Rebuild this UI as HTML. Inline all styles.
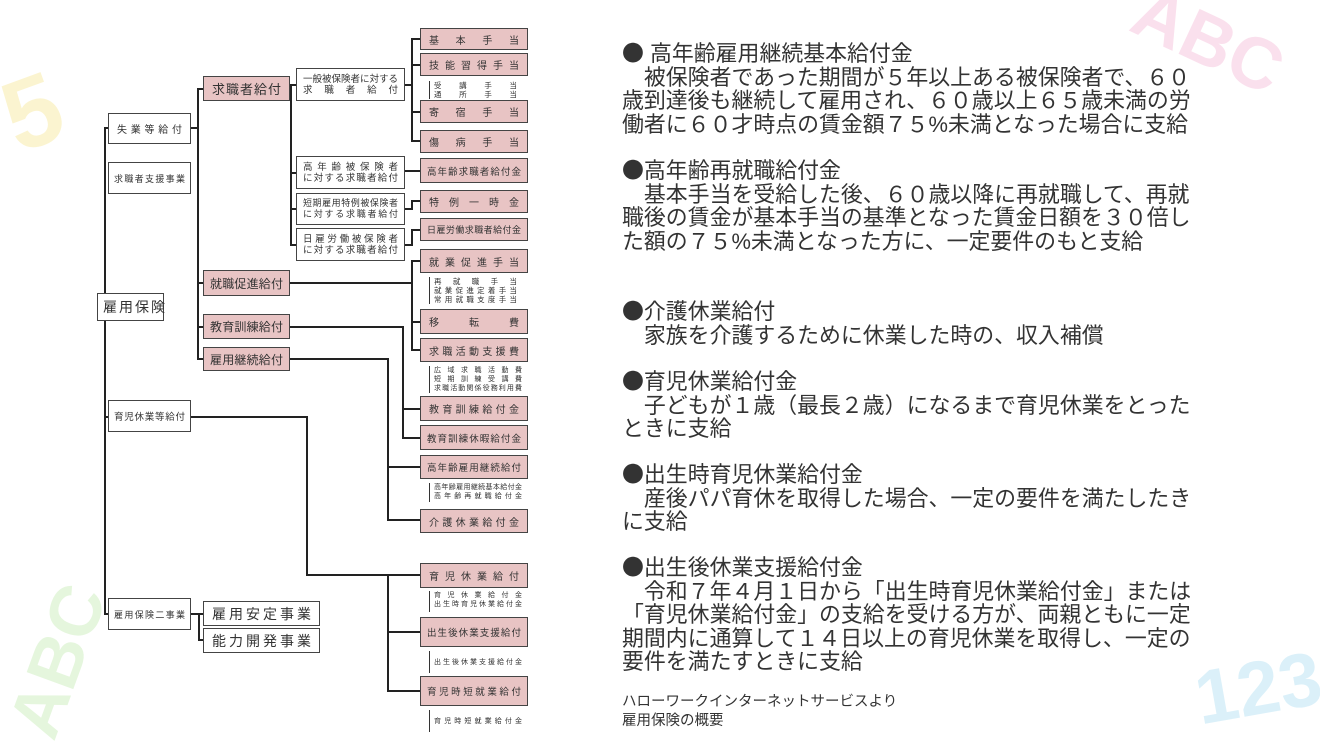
<!DOCTYPE html>
<html><head><meta charset="utf-8"><style>
html,body{margin:0;padding:0}
body{width:1320px;height:743px;position:relative;background:#fff;overflow:hidden;font-family:"Liberation Sans","Noto Sans CJK JP",sans-serif;color:#333}
.b{position:absolute;box-sizing:border-box;border:1.5px solid #444;background:#fff;display:flex;align-items:center;padding:0 8px;color:#333;white-space:nowrap}
.p{background:#e8c4c4}
.j{display:block;width:100%;text-align:justify;text-align-last:justify}
.l{position:absolute;background:#222}
.s{position:absolute;font-size:7.5px;line-height:9px;color:#333;border-left:1.2px solid #333;padding-left:4px;box-sizing:border-box;white-space:nowrap}
.s span{display:block;text-align:justify;text-align-last:justify}
.t{position:absolute;left:622px;font-size:21.9px;line-height:23.6px;white-space:pre;color:#333}
.t b{font-weight:normal;font-family:"Noto Sans CJK JP",sans-serif}
.deco{position:absolute;font-family:"Liberation Sans",sans-serif;font-weight:bold;opacity:.35}
</style></head><body>
<!-- decorations -->
<div class="deco" style="left:5px;top:55px;font-size:100px;color:#f5e27a;transform:rotate(-20deg)">5</div>
<div class="deco" style="left:1130px;top:0px;font-size:72px;color:#f2a9cc;transform:rotate(25deg)">ABC</div>
<div class="deco" style="left:-20px;top:620px;font-size:72px;color:#b6e6a0;transform:rotate(-70deg)">ABC</div>
<div class="deco" style="left:1195px;top:645px;font-size:76px;color:#9ad7ef;transform:rotate(-10deg)">123</div>

<!-- lines -->
<div class="l" style="left:104px;top:127px;width:2px;height:488px"></div>
<div class="l" style="left:104px;top:127px;width:5px;height:2px"></div>
<div class="l" style="left:104px;top:416px;width:5px;height:2px"></div>
<div class="l" style="left:104px;top:613px;width:5px;height:2px"></div>
<div class="l" style="left:190px;top:127px;width:9px;height:2px"></div>
<div class="l" style="left:197px;top:88px;width:2px;height:271px"></div>
<div class="l" style="left:197px;top:88px;width:7px;height:2px"></div>
<div class="l" style="left:197px;top:282px;width:7px;height:2px"></div>
<div class="l" style="left:197px;top:326px;width:7px;height:2px"></div>
<div class="l" style="left:197px;top:358px;width:7px;height:2px"></div>
<div class="l" style="left:289px;top:88px;width:3px;height:2px"></div>
<div class="l" style="left:290px;top:84px;width:2px;height:161px"></div>
<div class="l" style="left:290px;top:84px;width:7px;height:2px"></div>
<div class="l" style="left:290px;top:172px;width:7px;height:2px"></div>
<div class="l" style="left:290px;top:208px;width:7px;height:2px"></div>
<div class="l" style="left:290px;top:244px;width:7px;height:2px"></div>
<div class="l" style="left:404px;top:84px;width:9px;height:2px"></div>
<div class="l" style="left:411px;top:38px;width:2px;height:104px"></div>
<div class="l" style="left:411px;top:38px;width:10px;height:2px"></div>
<div class="l" style="left:411px;top:64px;width:10px;height:2px"></div>
<div class="l" style="left:411px;top:111px;width:10px;height:2px"></div>
<div class="l" style="left:411px;top:140px;width:10px;height:2px"></div>
<div class="l" style="left:404px;top:170px;width:17px;height:2px"></div>
<div class="l" style="left:404px;top:208px;width:8px;height:2px"></div>
<div class="l" style="left:411px;top:200px;width:2px;height:10px"></div>
<div class="l" style="left:411px;top:200px;width:10px;height:2px"></div>
<div class="l" style="left:404px;top:244px;width:8px;height:2px"></div>
<div class="l" style="left:411px;top:229px;width:2px;height:17px"></div>
<div class="l" style="left:411px;top:229px;width:10px;height:2px"></div>
<div class="l" style="left:289px;top:282px;width:124px;height:2px"></div>
<div class="l" style="left:411px;top:260px;width:2px;height:91px"></div>
<div class="l" style="left:411px;top:260px;width:10px;height:2px"></div>
<div class="l" style="left:411px;top:321px;width:10px;height:2px"></div>
<div class="l" style="left:411px;top:349px;width:10px;height:2px"></div>
<div class="l" style="left:289px;top:326px;width:115px;height:2px"></div>
<div class="l" style="left:402px;top:326px;width:2px;height:113px"></div>
<div class="l" style="left:402px;top:408px;width:19px;height:2px"></div>
<div class="l" style="left:402px;top:437px;width:19px;height:2px"></div>
<div class="l" style="left:289px;top:358px;width:100px;height:2px"></div>
<div class="l" style="left:387px;top:358px;width:2px;height:163px"></div>
<div class="l" style="left:387px;top:466px;width:34px;height:2px"></div>
<div class="l" style="left:387px;top:519px;width:34px;height:2px"></div>
<div class="l" style="left:190px;top:416px;width:118px;height:2px"></div>
<div class="l" style="left:306px;top:416px;width:2px;height:159px"></div>
<div class="l" style="left:306px;top:574px;width:115px;height:2px"></div>
<div class="l" style="left:387px;top:574px;width:2px;height:118px"></div>
<div class="l" style="left:387px;top:631px;width:34px;height:2px"></div>
<div class="l" style="left:387px;top:690px;width:34px;height:2px"></div>
<div class="l" style="left:190px;top:613px;width:9px;height:2px"></div>
<div class="l" style="left:198px;top:613px;width:2px;height:28px"></div>
<div class="l" style="left:198px;top:613px;width:6px;height:2px"></div>
<div class="l" style="left:198px;top:639px;width:6px;height:2px"></div>

<!-- level 0/1 -->
<div class="b" style="left:97px;top:293px;width:67px;height:28px;font-size:14px;padding:0 5px;letter-spacing:2px">雇用保険</div>
<div class="b" style="left:108px;top:113px;width:83px;height:31px;font-size:10px"><span class="j">失業等給付</span></div>
<div class="b" style="left:108px;top:162px;width:83px;height:32px;font-size:9px;padding:0 5px"><span class="j">求職者支援事業</span></div>
<div class="b" style="left:108px;top:400px;width:83px;height:32px;font-size:9.5px;padding:0 5px"><span class="j">育児休業等給付</span></div>
<div class="b" style="left:108px;top:598px;width:83px;height:32px;font-size:9px;padding:0 5px"><span class="j">雇用保険二事業</span></div>
<div class="b" style="left:203px;top:601px;width:117px;height:25px;font-size:14px"><span class="j">雇用安定事業</span></div>
<div class="b" style="left:203px;top:628px;width:117px;height:25px;font-size:14px"><span class="j">能力開発事業</span></div>

<!-- level 2 pink -->
<div class="b p" style="left:203px;top:76px;width:87px;height:25px;font-size:13px"><span class="j">求職者給付</span></div>
<div class="b p" style="left:203px;top:270px;width:87px;height:26px;font-size:12px;padding:0 6px"><span class="j">就職促進給付</span></div>
<div class="b p" style="left:203px;top:314px;width:87px;height:25px;font-size:12px;padding:0 6px"><span class="j">教育訓練給付</span></div>
<div class="b p" style="left:203px;top:347px;width:87px;height:24px;font-size:12px;padding:0 6px"><span class="j">雇用継続給付</span></div>

<!-- middle white -->
<div class="b" style="left:296px;top:68px;width:109px;height:33px;font-size:9.5px;line-height:11px;padding:0 6px"><div style="width:100%"><span class="j">一般被保険者に対する</span><span class="j">求職者給付</span></div></div>
<div class="b" style="left:296px;top:156px;width:109px;height:33px;font-size:9.5px;line-height:11px;padding:0 6px"><div style="width:100%"><span class="j">高年齢被保険者</span><span class="j">に対する求職者給付</span></div></div>
<div class="b" style="left:296px;top:193px;width:109px;height:32px;font-size:9px;line-height:11px;padding:0 6px"><div style="width:100%"><span class="j">短期雇用特例被保険者</span><span class="j">に対する求職者給付</span></div></div>
<div class="b" style="left:296px;top:228px;width:109px;height:33px;font-size:9.5px;line-height:11px;padding:0 6px"><div style="width:100%"><span class="j">日雇労働被保険者</span><span class="j">に対する求職者給付</span></div></div>

<!-- right pink -->
<div class="b p" style="left:420px;top:28px;width:108px;height:22px;font-size:10px"><span class="j">基本手当</span></div>
<div class="b p" style="left:420px;top:53px;width:108px;height:23px;font-size:10px"><span class="j">技能習得手当</span></div>
<div class="s" style="left:429px;top:81px;width:88px;height:18px"><span>受講手当</span><span>通所手当</span></div>
<div class="b p" style="left:420px;top:100px;width:108px;height:23px;font-size:10px"><span class="j">寄宿手当</span></div>
<div class="b p" style="left:420px;top:130px;width:108px;height:23px;font-size:10px"><span class="j">傷病手当</span></div>
<div class="b p" style="left:420px;top:158px;width:108px;height:25px;font-size:9.5px;padding:0 6px"><span class="j">高年齢求職者給付金</span></div>
<div class="b p" style="left:420px;top:190px;width:108px;height:23px;font-size:10px"><span class="j">特例一時金</span></div>
<div class="b p" style="left:420px;top:218px;width:108px;height:23px;font-size:9px;padding:0 6px"><span class="j">日雇労働求職者給付金</span></div>
<div class="b p" style="left:420px;top:249px;width:108px;height:24px;font-size:10px"><span class="j">就業促進手当</span></div>
<div class="s" style="left:429px;top:277px;width:88px;height:27px"><span>再就職手当</span><span>就業促進定着手当</span><span>常用就職支度手当</span></div>
<div class="b p" style="left:420px;top:309px;width:108px;height:25px;font-size:10px"><span class="j">移転費</span></div>
<div class="b p" style="left:420px;top:338px;width:108px;height:24px;font-size:10px"><span class="j">求職活動支援費</span></div>
<div class="s" style="left:429px;top:366px;width:93px;height:27px;font-size:7px"><span>広域求職活動費</span><span>短期訓練受講費</span><span>求職活動関係役務利用費</span></div>
<div class="b p" style="left:420px;top:396px;width:108px;height:25px;font-size:10px"><span class="j">教育訓練給付金</span></div>
<div class="b p" style="left:420px;top:425px;width:108px;height:25px;font-size:9.5px;padding:0 6px"><span class="j">教育訓練休暇給付金</span></div>
<div class="b p" style="left:420px;top:455px;width:108px;height:24px;font-size:9.5px;padding:0 6px"><span class="j">高年齢雇用継続給付</span></div>
<div class="s" style="left:429px;top:483px;width:93px;height:19px;font-size:7px"><span>高年齢雇用継続基本給付金</span><span>高年齢再就職給付金</span></div>
<div class="b p" style="left:420px;top:509px;width:108px;height:24px;font-size:10px"><span class="j">介護休業給付金</span></div>
<div class="b p" style="left:420px;top:563px;width:108px;height:25px;font-size:10px"><span class="j">育児休業給付</span></div>
<div class="s" style="left:429px;top:591px;width:93px;height:21px;font-size:7px"><span>育児休業給付金</span><span>出生時育児休業給付金</span></div>
<div class="b p" style="left:420px;top:617px;width:108px;height:30px;font-size:9.5px;padding:0 6px"><span class="j">出生後休業支援給付</span></div>
<div class="s" style="left:429px;top:651px;width:93px;height:22px;display:flex;align-items:center;font-size:7px"><span style="width:100%">出生後休業支援給付金</span></div>
<div class="b p" style="left:420px;top:676px;width:108px;height:30px;font-size:9.5px;padding:0 6px"><span class="j">育児時短就業給付</span></div>
<div class="s" style="left:429px;top:710px;width:93px;height:22px;display:flex;align-items:center;font-size:7px"><span style="width:100%">育児時短就業給付金</span></div>

<!-- right text -->
<div class="t" style="top:41px"><b>●</b> 高年齢雇用継続基本給付金
　被保険者であった期間が５年以上ある被保険者で、６０
歳到達後も継続して雇用され、６０歳以上６５歳未満の労
働者に６０才時点の賃金額７５%未満となった場合に支給</div>
<div class="t" style="top:158px"><b>●</b>高年齢再就職給付金
　基本手当を受給した後、６０歳以降に再就職して、再就
職後の賃金が基本手当の基準となった賃金日額を３０倍し
た額の７５%未満となった方に、一定要件のもと支給</div>
<div class="t" style="top:299px"><b>●</b>介護休業給付
　家族を介護するために休業した時の、収入補償</div>
<div class="t" style="top:369px"><b>●</b>育児休業給付金
　子どもが１歳（最長２歳）になるまで育児休業をとった
ときに支給</div>
<div class="t" style="top:462px"><b>●</b>出生時育児休業給付金
　産後パパ育休を取得した場合、一定の要件を満たしたき
に支給</div>
<div class="t" style="top:555px"><b>●</b>出生後休業支援給付金
　令和７年４月１日から「出生時育児休業給付金」または
「育児休業給付金」の支給を受ける方が、両親ともに一定
期間内に通算して１４日以上の育児休業を取得し、一定の
要件を満たすときに支給</div>
<div class="t" style="top:693px;font-size:14.5px;line-height:19px">ハローワークインターネットサービスより
雇用保険の概要</div>
</body></html>
